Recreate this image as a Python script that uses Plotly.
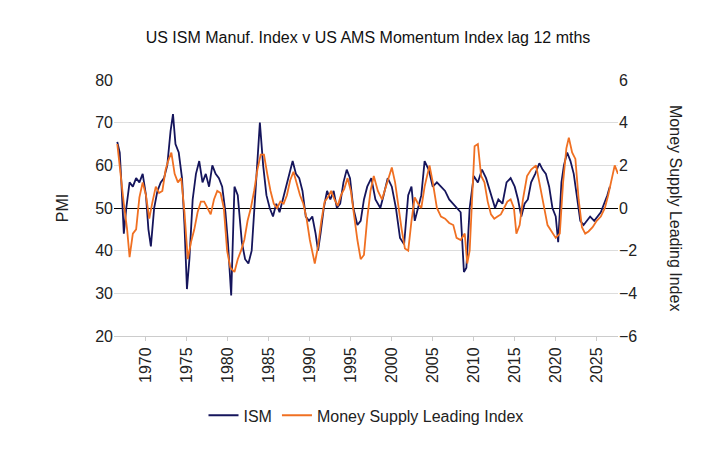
import plotly.graph_objects as go

# ISM Manufacturing PMI (decimal year, value)
ism_t = [1966.5, 1966.8, 1967.0, 1967.3, 1967.6, 1968.0, 1968.4, 1968.8, 1969.2, 1969.6,
         1970.0, 1970.3, 1970.6, 1971.0, 1971.4, 1971.8, 1972.2, 1972.6, 1973.0, 1973.3,
         1973.6, 1974.0, 1974.4, 1974.7, 1975.0, 1975.3, 1975.7, 1976.1, 1976.5, 1976.9,
         1977.3, 1977.7, 1978.1, 1978.5, 1978.9, 1979.3, 1979.7, 1980.0, 1980.4, 1980.8,
         1981.2, 1981.7, 1982.1, 1982.5, 1982.9, 1983.3, 1983.6, 1983.9, 1984.3, 1984.7,
         1985.1, 1985.5, 1985.9, 1986.3, 1986.7, 1987.1, 1987.5, 1987.9, 1988.3, 1988.7,
         1989.1, 1989.5, 1989.9, 1990.3, 1990.7, 1991.0, 1991.3, 1991.7, 1992.1, 1992.5,
         1992.9, 1993.3, 1993.7, 1994.1, 1994.5, 1994.9, 1995.3, 1995.8, 1996.2, 1996.6,
         1997.0, 1997.5, 1998.0, 1998.6, 1999.0, 1999.5, 2000.0, 2000.5, 2001.0, 2001.5,
         2002.0, 2002.4, 2002.8, 2003.2, 2003.6, 2004.0, 2004.5, 2005.0, 2005.5, 2006.0,
         2006.5, 2007.0, 2007.5, 2008.0, 2008.4, 2008.8, 2009.1, 2009.5, 2010.0, 2010.5,
         2011.0, 2011.5, 2012.0, 2012.6, 2013.0, 2013.5, 2014.0, 2014.5, 2015.0, 2015.4,
         2015.8, 2016.2, 2016.6, 2017.0, 2017.5, 2018.0, 2018.4, 2018.8, 2019.2, 2019.6,
         2020.0, 2020.3, 2020.7, 2021.0, 2021.4, 2021.8, 2022.2, 2022.7, 2023.0, 2023.4,
         2023.8, 2024.2, 2024.7, 2025.1, 2025.5, 2025.9, 2026.3, 2026.6]
ism_v = [65.5, 63, 56, 44, 50, 56, 55, 57, 56, 58,
         53, 45, 41, 50, 54, 56, 57, 60, 68, 72,
         65, 63, 57, 46, 31, 38, 52, 58, 61, 56,
         58, 55, 60, 58, 57, 55, 49, 42, 29.5, 55,
         53, 42, 38, 37, 40, 52, 62, 70, 60, 53,
         50, 48, 51, 49, 52, 55, 58, 61, 58, 57,
         54, 48, 47, 48, 44, 40, 44, 50, 54, 52,
         54, 50, 51, 56, 59, 57, 50, 46, 47, 52,
         55, 57, 52, 50, 53, 57, 55, 50, 43, 41.5,
         53, 55, 47, 50, 53, 61, 59, 55, 56, 55,
         54, 52, 51, 50, 49, 35, 36, 50, 57.5, 56,
         59, 57, 54, 50, 52, 51, 56, 57, 55, 52,
         48, 51, 52, 56, 58, 60.5, 59, 58, 55, 50,
         48, 42, 56, 60, 63, 61, 58, 51, 47, 46,
         47, 48, 47, 48, 49, 51, 53, 55]

# Money Supply Leading Index, lagged 12 months (right axis)
msl_t = [1966.5, 1966.9, 1967.3, 1967.7, 1968.0, 1968.4, 1968.8, 1969.2, 1969.6, 1970.0,
         1970.4, 1970.8, 1971.2, 1971.6, 1972.0, 1972.4, 1972.7, 1973.1, 1973.5, 1973.9,
         1974.3, 1974.7, 1975.1, 1975.5, 1975.9, 1976.3, 1976.7, 1977.1, 1977.5, 1977.9,
         1978.3, 1978.7, 1979.1, 1979.5, 1979.9, 1980.3, 1980.8, 1981.2, 1981.6, 1982.0,
         1982.4, 1982.8, 1983.2, 1983.6, 1984.0, 1984.4, 1984.8, 1985.2, 1985.6, 1986.0,
         1986.4, 1986.8, 1987.2, 1987.6, 1988.0, 1988.4, 1988.8, 1989.2, 1989.6, 1990.0,
         1990.6, 1991.0, 1991.4, 1991.8, 1992.2, 1992.6, 1993.0, 1993.4, 1993.8, 1994.2,
         1994.6, 1995.0, 1995.4, 1995.8, 1996.2, 1996.6, 1997.0, 1997.4, 1997.8, 1998.3,
         1998.8, 1999.2, 1999.6, 2000.0, 2000.4, 2000.8, 2001.2, 2001.6, 2002.0, 2002.4,
         2002.8, 2003.2, 2003.6, 2004.0, 2004.6, 2005.0, 2005.5, 2006.0, 2006.5, 2007.0,
         2007.5, 2007.9, 2008.4, 2008.9, 2009.2, 2009.5, 2009.8, 2010.1, 2010.5, 2010.9,
         2011.3, 2011.7, 2012.1, 2012.5, 2012.9, 2013.3, 2013.7, 2014.1, 2014.5, 2014.9,
         2015.2, 2015.6, 2016.0, 2016.5, 2017.0, 2017.6, 2018.0, 2018.5, 2019.0, 2019.5,
         2020.0, 2020.5, 2020.9, 2021.3, 2021.6, 2022.0, 2022.4, 2022.8, 2023.2, 2023.6,
         2024.0, 2024.5, 2025.0, 2025.5, 2026.0, 2026.4, 2026.8, 2027.2, 2027.6]
msl_v = [3.0, 1.5, 0.2, -1.0, -2.3, -1.2, -1.0, 0.5, 1.2, 0.6,
         -0.5, 0.3, 1.0, 0.7, 0.8, 1.8, 2.2, 2.6, 1.6, 1.2,
         1.4, -0.2, -2.4, -1.6, -1.0, -0.2, 0.3, 0.3, 0.0, -0.3,
         0.4, 0.8, 0.7, 0.0, -2.0, -2.8, -3.0, -2.4, -2.0, -1.5,
         -0.6, 0.0, 0.8, 1.8, 2.5, 2.5, 1.6, 0.8, 0.2, 0.0,
         0.3, 0.2, 0.6, 1.3, 1.7, 1.1, 0.6, 0.2, -0.5, -1.5,
         -2.6, -1.8, -0.6, 0.3, 0.5, 0.8, 0.4, 0.1, 0.6, 0.9,
         1.4, 0.8, -0.4, -1.5, -2.4, -2.2, -0.5, 0.8, 1.5, 0.8,
         0.4, 0.9, 1.5, 1.9, 1.2, 0.0, -1.0, -1.9, -2.0, -0.6,
         0.5, 0.2, 0.0, 1.0, 2.0, 1.2, 0.0, -0.4, -0.5, -0.7,
         -0.8, -1.4, -1.5, -1.2, -2.6, -2.0, 0.5, 2.9, 3.0, 1.5,
         1.2, 0.3, -0.3, -0.5, -0.4, -0.3, 0.0, 0.3, 0.4, 0.0,
         -1.2, -0.8, 0.4, 1.5, 1.8, 2.0, 1.2, 0.2, -0.8, -1.1,
         -1.4, -1.2, 1.2, 2.8, 3.3, 2.6, 2.3, 0.4, -0.9, -1.2,
         -1.1, -0.9, -0.6, -0.4, 0.0, 0.6, 1.3, 2.0, 1.6]

years = list(range(1970, 2030, 5))

ism_color = "#15155c"
msl_color = "#f07022"
font = "Liberation Sans, Arial, sans-serif"

fig = go.Figure()
fig.add_trace(go.Scatter(x=ism_t, y=ism_v, mode="lines", name="ISM",
                         line=dict(color=ism_color, width=1.8)))
fig.add_trace(go.Scatter(x=msl_t, y=msl_v, mode="lines", name="Money Supply Leading Index",
                         yaxis="y2", line=dict(color=msl_color, width=1.8)))

fig.update_layout(
    width=720, height=451,
    margin=dict(l=106, r=110, t=72, b=123),
    paper_bgcolor="white", plot_bgcolor="white",
    font=dict(family=font, size=16, color="#222222"),
    title=dict(text="US ISM Manuf. Index v US AMS Momentum Index lag 12 mths",
               x=0.5, xanchor="center", y=0.935, yanchor="middle",
               font=dict(size=16, color="#111111")),
    xaxis=dict(range=[1966.1, 2027.6], tickvals=years, tickangle=-90,
               showgrid=False, zeroline=False, showline=True, linecolor="#cccccc",
               ticks="outside", ticklen=4, tickcolor="#cccccc"),
    yaxis=dict(range=[20, 80], dtick=10, showgrid=True, gridcolor="#dddddd",
               zeroline=False, title=dict(text="PMI", standoff=22, font=dict(size=16))),
    yaxis2=dict(range=[-6, 6], dtick=2, overlaying="y", side="right",
                showgrid=False, zeroline=True, zerolinecolor="black", zerolinewidth=1.2),
    legend=dict(orientation="h", x=0.5, xanchor="center", y=-0.31, yanchor="middle",
                font=dict(size=16)),
    showlegend=True,
)
fig.add_annotation(text="Money Supply Leading Index", textangle=90, xref="paper", yref="paper",
                   x=1.115, xanchor="center", y=0.5, showarrow=False,
                   font=dict(size=16, color="#222222"))

fig.write_html("out.html")
